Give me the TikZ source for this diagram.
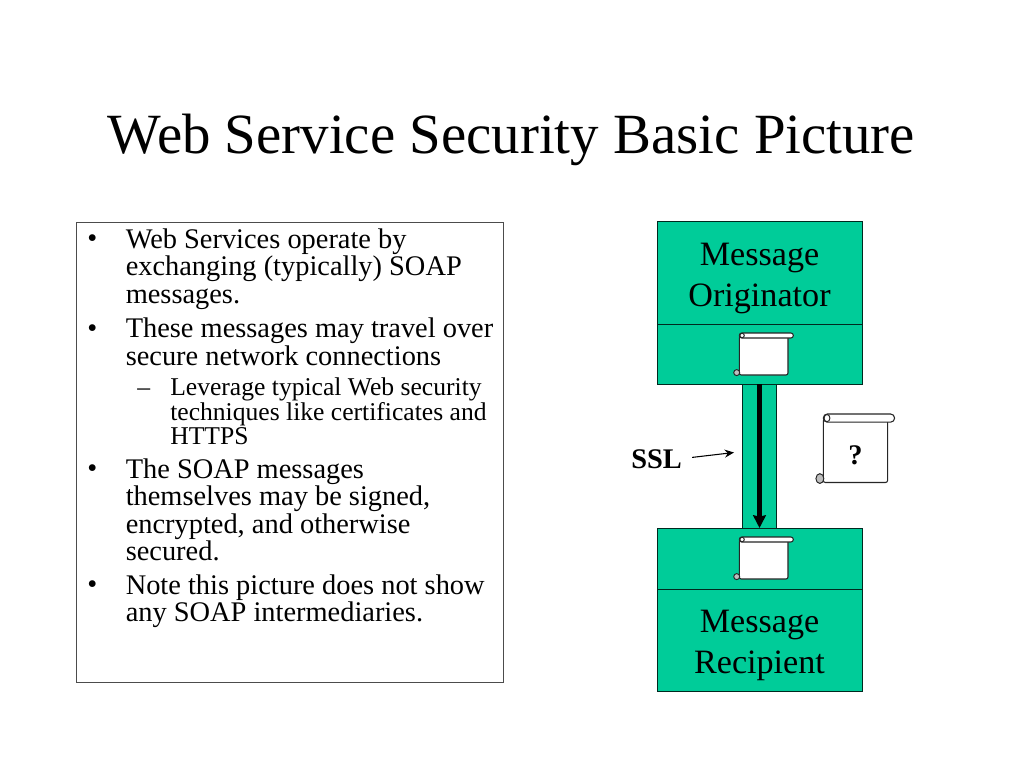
\documentclass[tikz,border=0pt]{standalone}
\usepackage{fontspec}
\usetikzlibrary{arrows.meta}
\setmainfont{Liberation Serif}
\definecolor{msggreen}{HTML}{00CC99}
\lineskiplimit=-20pt
\normallineskiplimit=-20pt
\tikzset{
    bodytext/.style={anchor=north west, inner sep=0pt, align=left, font=\fontsize{21.3}{20.6}\selectfont},
    subtext/.style={anchor=north west, inner sep=0pt, align=left, font=\fontsize{19.2}{18.4}\selectfont},
    markertext/.style={anchor=base west, inner sep=0pt},
    msgbox/.style={draw=black!80!msggreen, fill=msggreen, line width=0.6pt, outer sep=0pt, minimum width=153.75pt, inner sep=0pt, align=center, font=\fontsize{25.6}{30.6}\selectfont},
    pics/scroll/.style={code={
        \draw[black!85, line width=0.8pt, fill=white, rounded corners=1.5pt] (0,3) -- (0,42) -- (48.7,42) -- (48.7,3) -- cycle;
        \draw[black!85, line width=0.8pt, fill=white, rounded corners=#1] (0,0) rectangle (54,5);
        \draw[black!85, line width=0.7pt, fill=white] (2.8,2.5) circle [radius=2.2];
        \draw[black!85, line width=0.7pt, fill=black!25] (-2.6,39.6) circle [radius=3];
    }}
}
\begin{document}
\begin{tikzpicture}[x=0.75pt, y=-0.75pt]
    \useasboundingbox (0, 0) rectangle (1024, 768);
    \node[anchor=base, inner sep=0pt, font=\fontsize{42.65}{50}\selectfont] (title) at (511.5, 153.5) {Web Service Security Basic Picture};

    \node[draw=black!70, line width=0.5pt, outer sep=0pt, anchor=north west, minimum width=320pt, minimum height=345.25pt, inner sep=0pt] (textbox) at (76.5, 222) {};
    \foreach \ypos in {247.5, 337.5, 477.5, 593.5} {
        \node[markertext, font=\fontsize{21.3}{20.6}\selectfont] (bullet\ypos) at (87, \ypos) {•};
    }
    \node[markertext, font=\fontsize{19.2}{18.4}\selectfont] (dash) at (137, 395) {–};
    \node[bodytext] (itema) at (125.5, 228.5) {\strut Web Services operate by\\exchanging (typically) SOAP\\messages.};
    \node[bodytext] (itemb) at (125.5, 318) {\strut These messages may travel over\\secure network connections};
    \node[subtext] (itemc) at (170, 377.5) {\strut Leverage typical Web security\\techniques like certificates and\\HTTPS};
    \node[bodytext] (itemd) at (125.5, 458.5) {\strut The SOAP messages\\themselves may be signed,\\encrypted, and otherwise\\secured.};
    \node[bodytext] (iteme) at (125.5, 574.5) {\strut Note this picture does not show\\any SOAP intermediaries.};

    \node[msgbox, anchor=north west, minimum height=77.25pt] (origin) at (657, 221) {\rule{0pt}{26pt}Message\\Originator};
    \node[msgbox, anchor=north, minimum height=45pt] (sendslot) at (origin.south) {};
    \node[msgbox, anchor=north west, minimum height=45.75pt] (recvslot) at (657, 528) {};
    \node[msgbox, anchor=north, minimum height=76.5pt] (recipient) at (recvslot.south) {\rule{0pt}{24.5pt}Message\\Recipient};
    \node[draw=black!80!msggreen, fill=msggreen, line width=0.6pt, outer sep=0pt, anchor=north, minimum width=25.5pt, minimum height=108pt, inner sep=0pt] (channel) at (759.5, 384) {};

    \pic at (739.3, 333) {scroll=1.8pt};
    \pic at (739.3, 537) {scroll=1.8pt};
    \pic[xscale=1.32, yscale=1.63] at (823.3, 414) {scroll=3pt};
    \node[inner sep=0pt, font=\bfseries\fontsize{21.3}{24}\selectfont] (query) at (855.5, 455) {?};

    \node[anchor=base west, inner sep=0pt, font=\bfseries\fontsize{21.3}{24}\selectfont] (ssl) at (631, 468) {SSL};
    \coordinate (ssltip) at (734, 452.5);
    \coordinate (sslstart) at ([xshift=7.5pt, yshift=1pt]ssl.east);

    \draw   (sendslot.south) edge [-{Stealth[length=9.5pt, width=9.5pt, inset=1pt]}, line width=3.1pt] (recvslot.north)
            (sslstart) edge [-{Stealth[length=7pt, width=6pt]}, line width=0.8pt] (ssltip)
            ;
\end{tikzpicture}
\end{document}
